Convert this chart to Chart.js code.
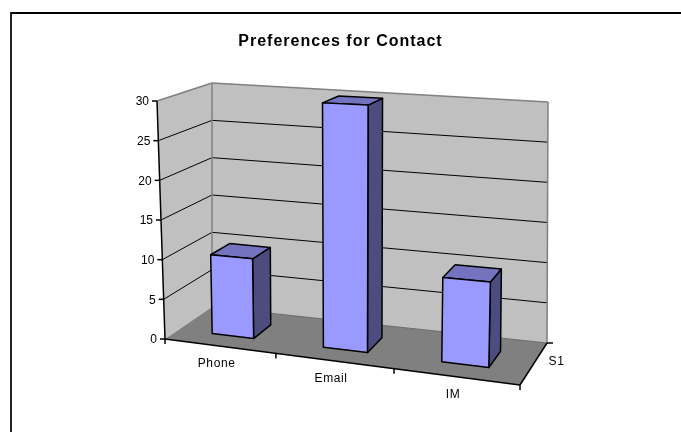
<!DOCTYPE html>
<html>
<head>
<meta charset="utf-8">
<script src="https://cdn.jsdelivr.net/npm/chart.js@4/dist/chart.umd.min.js"></script>
<style>
  html, body { margin: 0; padding: 0; background: #fff; }
  #wrap { width: 681px; height: 432px; }
</style>
</head>
<body>
<div id="wrap"><canvas id="contactChart" width="681" height="432"></canvas></div>
<script>
const categories = ["Phone", "Email", "IM"];
const seriesName = "S1";
const values = [10, 30, 10];
const yTicks = [0, 5, 10, 15, 20, 25, 30];

// corners of the 3d box on screen (front/back, bottom/top, left/right)
const BOX = {
    fb0: [165, 339], fb1: [520, 385],
    ft0: [157, 101], ft1: [528, 118],
    bb0: [212, 307], bb1: [547, 343],
    bt0: [212, 83],  bt1: [548, 102]
};
const PERSP = 1.1; // right side is nearer, so categories spread a little
const BAR_D0 = 0.3, BAR_D1 = 0.7;
const FONT = '"Liberation Sans", Arial, sans-serif';

function lerp(a, b, t) {
    return [a[0] + (b[0] - a[0]) * t, a[1] + (b[1] - a[1]) * t];
}

// u: along categories, w: along values, d: depth (0 front, 1 back)
function proj(u, w, d) {
    const pu = u / (u + PERSP * (1 - u));
    const front = lerp(lerp(BOX.fb0, BOX.fb1, pu), lerp(BOX.ft0, BOX.ft1, pu), w);
    const back = lerp(lerp(BOX.bb0, BOX.bb1, pu), lerp(BOX.bt0, BOX.bt1, pu), w);
    return lerp(front, back, d);
}

function poly(ctx, pts, fill, stroke, lw) {
    ctx.beginPath();
    ctx.moveTo(pts[0][0], pts[0][1]);
    for (let i = 1; i < pts.length; i++) ctx.lineTo(pts[i][0], pts[i][1]);
    ctx.closePath();
    if (fill) { ctx.fillStyle = fill; ctx.fill(); }
    if (stroke) { ctx.strokeStyle = stroke; ctx.lineWidth = lw || 1; ctx.stroke(); }
}

function line(ctx, a, b, color, lw) {
    ctx.beginPath();
    ctx.moveTo(a[0], a[1]);
    ctx.lineTo(b[0], b[1]);
    ctx.strokeStyle = color;
    ctx.lineWidth = lw || 1;
    ctx.stroke();
}

const bar3d = {
    id: "bar3d",
    beforeDraw(chart) {
        const ctx = chart.ctx;
        ctx.save();
        // chart frame
        line(ctx, [11, 13], [681, 13], "#000", 2);
        line(ctx, [11, 12], [11, 432], "#222", 2);
        ctx.restore();
        // wider spacing for the title, like the original
        ctx.letterSpacing = "1px";
    },
    afterDatasetsDraw(chart) {
        const ctx = chart.ctx;
        const xs = chart.scales.x, ys = chart.scales.y;
        const yMax = ys.max;
        const base = ys.getPixelForValue(0);
        const top = ys.getPixelForValue(yMax);
        const nu = px => (px - xs.left) / xs.width;
        const nw = px => (base - px) / (base - top);
        const n = categories.length;

        ctx.save();
        ctx.letterSpacing = "0px";
        ctx.lineJoin = "round";

        // walls
        poly(ctx, [proj(0, 0, 1), proj(1, 0, 1), proj(1, 1, 1), proj(0, 1, 1)], "#c0c0c0", null);
        poly(ctx, [proj(0, 0, 0), proj(0, 0, 1), proj(0, 1, 1), proj(0, 1, 0)], "#c0c0c0", null);

        // gridlines
        yTicks.forEach(t => {
            if (t === 0 || t === yMax) return;
            const w = nw(ys.getPixelForValue(t));
            line(ctx, proj(0, w, 0), proj(0, w, 1), "#000", 1);
            line(ctx, proj(0, w, 1), proj(1, w, 1), "#000", 1);
        });

        // wall edges
        line(ctx, proj(0, 1, 0), proj(0, 1, 1), "#808080", 1.5);
        line(ctx, proj(0, 1, 1), proj(1, 1, 1), "#808080", 1.5);
        line(ctx, proj(1, 1, 1), proj(1, 0, 1), "#808080", 1.5);
        line(ctx, proj(0, 0, 1), proj(0, 1, 1), "#808080", 1.5);

        // floor
        poly(ctx, [proj(0, 0, 0), proj(1, 0, 0), proj(1, 0, 1), proj(0, 0, 1)], "#808080", null);
        line(ctx, proj(0, 0, 1), proj(1, 0, 1), "#6a6a6a", 1);

        // axes
        line(ctx, proj(0, 0, 0), proj(0, 1, 0), "#000", 1.5);
        line(ctx, proj(0, 0, 0), proj(1, 0, 0), "#000", 1.5);
        line(ctx, proj(1, 0, 0), proj(1, 0, 1), "#000", 1.5);
        const dEnd = proj(1, 0, 1);
        line(ctx, dEnd, [dEnd[0] + 6, dEnd[1]], "#000", 1.5);

        // value ticks + labels
        ctx.font = "12px " + FONT;
        ctx.textAlign = "right";
        ctx.textBaseline = "middle";
        yTicks.forEach(t => {
            const p = proj(0, nw(ys.getPixelForValue(t)), 0);
            line(ctx, [p[0] - 5, p[1]], p, "#000", 1.5);
            ctx.fillStyle = "#000";
            ctx.fillText(String(t), p[0] - 8, p[1] + 1);
        });

        // category ticks
        for (let k = 0; k <= n; k++) {
            const p = proj(k / n, 0, 0);
            line(ctx, p, [p[0], p[1] + 5], "#000", 1.5);
        }

        // bars
        const meta = chart.getDatasetMeta(0);
        meta.data.forEach(el => {
            const u0 = nu(el.x - el.width / 2), u1 = nu(el.x + el.width / 2);
            const w = nw(el.y);
            const side = [proj(u1, 0, BAR_D0), proj(u1, 0, BAR_D1), proj(u1, w, BAR_D1), proj(u1, w, BAR_D0)];
            const topF = [proj(u0, w, BAR_D0), proj(u1, w, BAR_D0), proj(u1, w, BAR_D1), proj(u0, w, BAR_D1)];
            const front = [proj(u0, 0, BAR_D0), proj(u1, 0, BAR_D0), proj(u1, w, BAR_D0), proj(u0, w, BAR_D0)];
            poly(ctx, side, "#4c4c7f", "#000", 1.5);
            poly(ctx, topF, "#7373bf", "#000", 1.5);
            poly(ctx, front, "#9999ff", "#000", 1.5);
        });

        // category labels
        ctx.fillStyle = "#000";
        ctx.textAlign = "center";
        ctx.letterSpacing = "0.6px";
        categories.forEach((c, i) => {
            const p = proj(nu(xs.getPixelForValue(i)), 0, 0);
            ctx.fillText(c, p[0] - 3, p[1] + 18);
        });

        // series label
        const s = proj(1, 0, 0.5);
        ctx.fillText(seriesName, s[0] + 23, s[1] - 2);

        ctx.restore();
    }
};

new Chart(document.getElementById("contactChart"), {
    type: "bar",
    data: {
        labels: categories,
        datasets: [{
            label: seriesName,
            data: values,
            backgroundColor: "rgba(0,0,0,0)",
            borderWidth: 0,
            barPercentage: 0.38,
            categoryPercentage: 1.0
        }]
    },
    options: {
        responsive: false,
        animation: false,
        events: [],
        layout: { padding: { left: 0, right: 0, top: 0, bottom: 40 } },
        scales: {
            x: { display: false },
            y: { display: false, min: 0, max: 30, ticks: { stepSize: 5 } }
        },
        plugins: {
            legend: { display: false },
            tooltip: { enabled: false },
            title: {
                display: true,
                text: "Preferences for Contact",
                color: "#000",
                font: { family: FONT, size: 16, weight: "bold", lineHeight: 1.2 },
                padding: { top: 32, bottom: 30 }
            }
        }
    },
    plugins: [bar3d]
});
</script>
</body>
</html>
